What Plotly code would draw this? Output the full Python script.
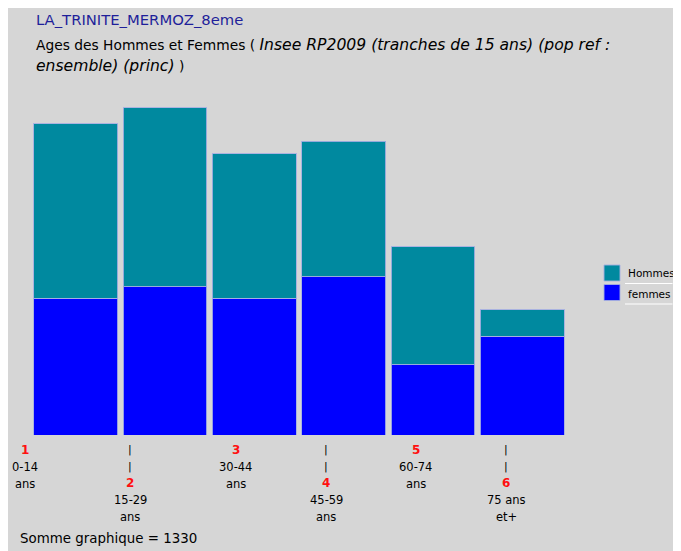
import plotly.graph_objects as go

# ---- data ----
categories = ["1", "2", "3", "4", "5", "6"]
tick_lines = [["0-14", "ans"], ["15-29", "ans"], ["30-44", "ans"],
              ["45-59", "ans"], ["60-74", "ans"], ["75 ans", "et+"]]
femmes = [119, 129, 119, 138, 61, 86]
hommes = [152, 156, 126, 118, 103, 23]
total = sum(femmes) + sum(hommes)

# page body has an 8px white margin; the figure fills the rest of the window
OFF = 8
W, H = 681 - OFF, 551 - OFF
L, R, T, B = 31 - OFF, 114, 100 - OFF, 116
PW, PH = W - L - R, H - T - B
GREY = "#d6d6d6"
C_H = "#00899f"
C_F = "#0000ff"
EDGE = "rgba(165,175,225,0.9)"
FONT = "DejaVu Sans"


def xp(px):  # window pixel -> paper
    return (px - OFF - L) / PW


def yp(py):
    return (H - B - (py - OFF)) / PH


idx = list(range(len(categories)))
fig = go.Figure()
fig.add_bar(x=idx, y=femmes, name="femmes", marker=dict(color=C_F, line=dict(color=EDGE, width=1)))
fig.add_bar(x=idx, y=hommes, name="Hommes", marker=dict(color=C_H, line=dict(color=EDGE, width=1)))

shapes = [
    dict(type="rect", xref="paper", yref="paper", x0=xp(604), x1=xp(620), y0=yp(265), y1=yp(281),
         fillcolor=C_H, line=dict(color=EDGE, width=1)),
    dict(type="rect", xref="paper", yref="paper", x0=xp(604), x1=xp(620), y0=yp(284.5), y1=yp(300.5),
         fillcolor=C_F, line=dict(color=EDGE, width=1)),
    dict(type="line", xref="paper", yref="paper", x0=xp(625), x1=xp(672.5), y0=yp(283.5), y1=yp(283.5),
         line=dict(color="white", width=1.2)),
    dict(type="line", xref="paper", yref="paper", x0=xp(625), x1=xp(672.5), y0=yp(304), y1=yp(304),
         line=dict(color="white", width=1.2)),
]

ann = []


def text(s, px, py, size=12, color="black", anchor="left", weight="normal"):
    ann.append(dict(text=s, xref="paper", yref="paper", x=xp(px), y=yp(py), xanchor=anchor,
                    yanchor="middle", showarrow=False,
                    font=dict(family=FONT, size=size, color=color, weight=weight)))


IT = "<i><span style='font-size:15.6px'>%s</span></i>"
text("LA_TRINITE_MERMOZ_8eme", 34, 20, 14.8, "#1f1f9a")
text("Ages des Hommes et Femmes ( " + IT % "Insee RP2009 (tranches de 15 ans) (pop ref :", 34, 45, 13.8)
text(IT % "ensemble) (princ)" + " )", 34, 66, 13.8)
text("Hommes", 625.5, 272.5, 10.5)
text("femmes", 625.5, 293.5, 10.5)
text("Somme graphique = %d" % total, 18, 538, 13.4)

label_px = [24.5, 130, 235.5, 326, 415.5, 506]
for i, (num, lines) in enumerate(zip(categories, tick_lines)):
    cx = label_px[i]
    if i % 2 == 0:
        text(num, cx, 450, 12, "#ff1010", "center", "bold")
        text(lines[0], cx, 466.5, 11.5, "black", "center")
        text(lines[1], cx, 483.5, 11.5, "black", "center")
    else:
        text("|", cx, 449.5, 11, "black", "center")
        text("|", cx, 466, 11, "black", "center")
        text(num, cx, 483, 12, "#ff1010", "center", "bold")
        text(lines[0], cx, 500, 11.5, "black", "center")
        text(lines[1], cx, 517, 11.5, "black", "center")

fig.update_layout(
    width=W, height=H, margin=dict(l=L, r=R, t=T, b=B, autoexpand=False),
    paper_bgcolor=GREY, plot_bgcolor=GREY,
    barmode="stack", bargap=0.06, showlegend=False,
    xaxis=dict(range=[-0.5, 5.5], visible=False, fixedrange=True),
    yaxis=dict(range=[0, PH * 1330 / 1526.4], visible=False, fixedrange=True),
    shapes=shapes, annotations=ann,
)

fig.write_html("out.html")
